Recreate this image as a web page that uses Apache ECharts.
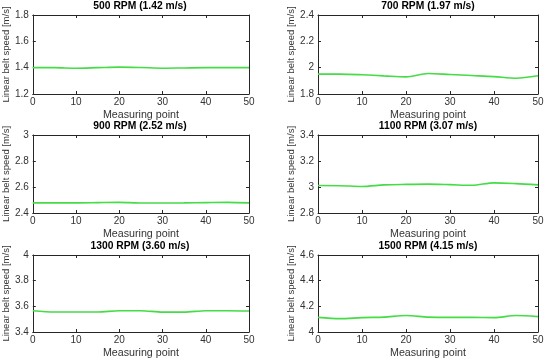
<!DOCTYPE html>
<html><head><meta charset="utf-8">
<script src="https://cdn.jsdelivr.net/npm/echarts@6/dist/echarts.min.js"></script>
<style>html,body{margin:0;padding:0;background:#fff}#c{width:550px;height:361px}</style>
</head><body><div id="c"></div>
<script>
const xPoints = [0,5,10,15,20,25,30,35,40,45,50];
const titles = ['500 RPM (1.42 m/s)','700 RPM (1.97 m/s)','900 RPM (2.52 m/s)','1100 RPM (3.07 m/s)','1300 RPM (3.60 m/s)','1500 RPM (4.15 m/s)'];
const yMins = [1.2,1.8,2.4,2.8,3.4,4.0];
const yMaxs = [1.8,2.4,3.0,3.4,4.0,4.6];
const s500  = [1.400,1.400,1.396,1.400,1.404,1.401,1.396,1.398,1.400,1.400,1.400];
const s700  = [1.951,1.951,1.946,1.938,1.930,1.956,1.948,1.940,1.932,1.920,1.938];
const s900  = [2.478,2.478,2.478,2.480,2.482,2.477,2.477,2.478,2.480,2.482,2.478];
const s1100 = [3.011,3.010,3.004,3.016,3.020,3.022,3.018,3.013,3.032,3.026,3.016];
const s1300 = [3.566,3.556,3.556,3.556,3.566,3.566,3.555,3.555,3.566,3.566,3.564];
const s1500 = [4.114,4.104,4.112,4.116,4.128,4.116,4.114,4.114,4.112,4.128,4.120];
const seriesData = [s500,s700,s900,s1100,s1300,s1500];

const ink = '#262626';
const font = 'Liberation Sans, Arial, sans-serif';
const gridsPos = [];
const lefts = [31,318], widths = [218,220];
const tops = [15,135,255], heights = [79,78,77];
for (let r=0;r<3;r++) for (let c=0;c<2;c++) gridsPos.push({left:lefts[c],top:tops[r],width:widths[c],height:heights[r]});

const option = {animation:false, backgroundColor:'#fff', title:[], grid:[], xAxis:[], yAxis:[], series:[]};
gridsPos.forEach((g,i)=>{
  option.grid.push({left:g.left,top:g.top,width:g.width,height:g.height,show:false});
  option.title.push({text:titles[i], left:g.left+g.width/2, top:g.top-16, textAlign:'center', padding:[2,0,0,0],
    textStyle:{fontFamily:font,fontSize:10.3,fontWeight:'bold',color:'#000'}});
  const axLine = {show:true,lineStyle:{color:ink,width:1}};
  const tick = {show:true,inside:true,length:3,lineStyle:{color:ink}};
  option.xAxis.push({type:'value',gridIndex:i,min:0,max:50,interval:10,position:'bottom',
    axisLine:{...axLine,onZero:false},axisTick:tick,splitLine:{show:false},
    axisLabel:{color:'#333',fontFamily:font,fontSize:10,margin:3},
    name:'Measuring point',nameLocation:'middle',nameGap:16,
    nameTextStyle:{color:'#333',fontFamily:font,fontSize:10.7}});
  option.xAxis.push({type:'value',gridIndex:i,min:0,max:50,interval:10,position:'top',
    axisLine:{...axLine,onZero:false},axisTick:tick,splitLine:{show:false},axisLabel:{show:false}});
  option.yAxis.push({type:'value',gridIndex:i,min:yMins[i],max:yMaxs[i],interval:0.2,position:'left',
    axisLine:{...axLine,onZero:false},axisTick:tick,splitLine:{show:false},
    axisLabel:{color:'#333',fontFamily:font,fontSize:10,margin:4},
    name:'Linear belt speed [m/s]',nameLocation:'middle',nameGap:19,
    nameTextStyle:{color:'#333',fontFamily:font,fontSize:9.5}});
  option.yAxis.push({type:'value',gridIndex:i,min:yMins[i],max:yMaxs[i],interval:0.2,position:'right',
    axisLine:{...axLine,onZero:false},axisTick:tick,splitLine:{show:false},axisLabel:{show:false}});
  option.series.push({type:'line',xAxisIndex:2*i,yAxisIndex:2*i,showSymbol:false,smooth:0.3,
    lineStyle:{color:'#45dc45',width:1.6},
    data:xPoints.map((x,k)=>[x,seriesData[i][k]])});
});
const chart = echarts.init(document.getElementById('c'),null,{renderer:'canvas'});
chart.setOption(option);
</script></body></html>
